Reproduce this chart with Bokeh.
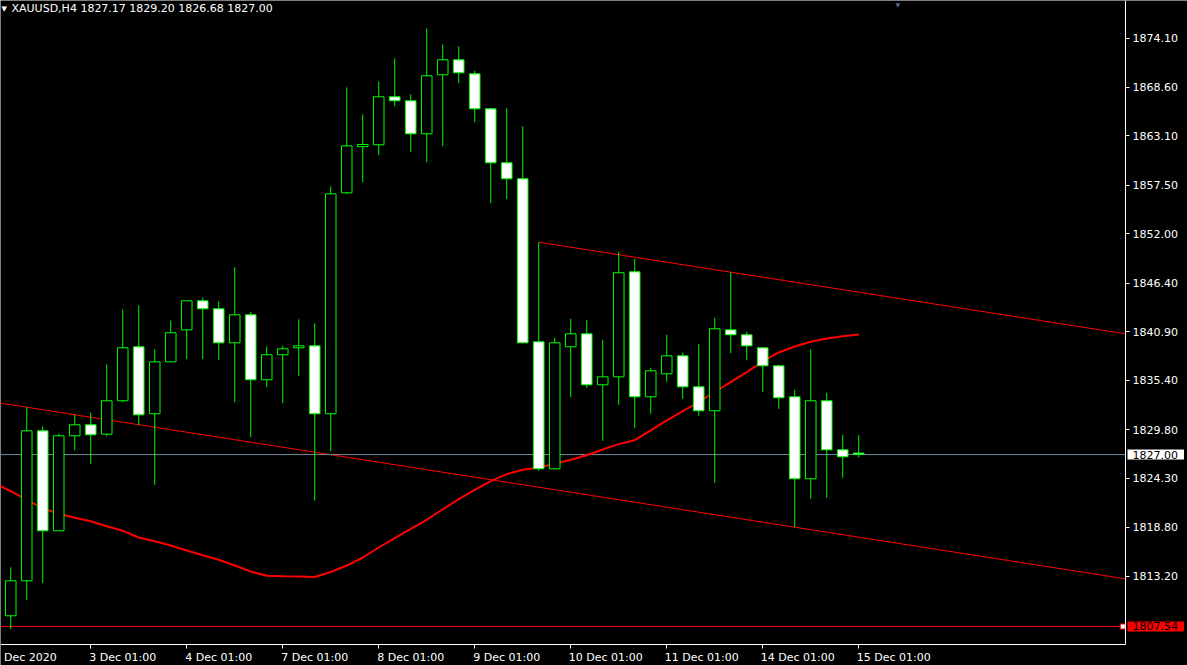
from bokeh.plotting import figure
from bokeh.models import (ColumnDataSource, FixedTicker, PrintfTickFormatter, Label, Range1d,
                          LinearAxis)
from bokeh.embed import file_html
from bokeh.resources import INLINE

# ---------------- data ----------------
symbol = "XAUUSD,H4"
header_prices = ["1827.17", "1829.20", "1826.68", "1827.00"]

opens = [1808.75, 1812.71, 1829.69, 1818.37, 1829.13, 1830.37, 1829.31, 1833.09, 1839.20, 1831.62,
         1837.50, 1841.12, 1844.41, 1843.50, 1839.65, 1842.82, 1835.47, 1838.30, 1839.09, 1839.31,
         1831.62, 1856.63, 1861.95, 1862.07, 1867.50, 1867.05, 1863.31, 1869.99, 1871.69, 1870.10,
         1866.14, 1860.03, 1858.22, 1839.77, 1825.39, 1839.20, 1840.67, 1834.90, 1835.80, 1847.69,
         1833.54, 1836.14, 1838.18, 1834.67, 1831.96, 1841.12, 1840.56, 1839.09, 1837.05, 1833.54,
         1824.26, 1833.09, 1827.54, 1827.17]
highs = [1814.22, 1832.36, 1830.18, 1829.35, 1831.54, 1831.76, 1837.20, 1843.42, 1843.88, 1838.90,
         1842.18, 1844.41, 1844.75, 1844.33, 1848.18, 1843.16, 1839.23, 1839.31, 1842.29, 1841.84,
         1857.35, 1868.55, 1865.50, 1869.23, 1871.84, 1867.76, 1875.23, 1873.42, 1873.19, 1870.44,
         1866.25, 1866.18, 1864.14, 1851.04, 1840.22, 1842.37, 1842.26, 1840.00, 1849.95, 1849.16,
         1836.82, 1840.56, 1838.52, 1839.54, 1842.48, 1847.65, 1840.90, 1839.10, 1837.16, 1834.33,
         1838.90, 1834.00, 1829.24, 1829.20]
lows = [1807.23, 1810.52, 1812.44, 1818.37, 1827.50, 1825.91, 1829.08, 1832.93, 1830.37, 1823.58,
        1837.50, 1837.80, 1837.80, 1837.73, 1832.93, 1828.97, 1834.63, 1832.82, 1835.87, 1821.80,
        1827.38, 1856.50, 1857.83, 1860.89, 1866.44, 1861.23, 1860.10, 1861.91, 1869.04, 1864.63,
        1855.46, 1855.91, 1839.60, 1825.16, 1825.30, 1833.50, 1834.56, 1828.56, 1832.64, 1830.03,
        1831.62, 1835.24, 1833.31, 1831.39, 1823.81, 1838.48, 1837.68, 1834.06, 1832.18, 1818.78,
        1822.00, 1822.11, 1824.37, 1826.68]
closes = [1812.71, 1829.69, 1818.37, 1829.13, 1830.37, 1829.24, 1833.09, 1839.09, 1831.50, 1837.50,
          1840.79, 1844.41, 1843.50, 1839.65, 1842.82, 1835.47, 1838.30, 1838.97, 1839.31, 1831.62,
          1856.52, 1861.95, 1862.10, 1867.50, 1867.05, 1863.31, 1869.88, 1871.69, 1870.22, 1866.14,
          1860.03, 1858.22, 1839.65, 1825.39, 1839.65, 1840.67, 1834.90, 1835.80, 1847.58, 1833.54,
          1836.48, 1838.18, 1834.67, 1831.96, 1841.24, 1840.56, 1839.31, 1837.05, 1833.43, 1824.26,
          1833.09, 1827.54, 1826.75, 1827.00]

# moving average, one value per bar starting one bar before the first visible one
ma_start = -1
ma_values = [1823.74, 1822.85, 1821.88, 1820.93, 1820.30, 1819.84, 1819.46, 1818.89, 1818.37, 1817.61,
             1817.19, 1816.71, 1816.14, 1815.61, 1815.09, 1814.44, 1813.76, 1813.28, 1813.23, 1813.20,
             1813.14, 1813.71, 1814.44, 1815.35, 1816.48, 1817.53, 1818.58, 1819.62, 1820.81, 1821.96,
             1822.99, 1823.99, 1824.79, 1825.29, 1825.54, 1825.96, 1826.41, 1826.93, 1827.57, 1828.18,
             1828.63, 1829.73, 1830.86, 1831.91, 1832.93, 1834.11, 1835.19, 1836.33, 1837.54, 1838.56,
             1839.23, 1839.77, 1840.14, 1840.40, 1840.59]

time_tick_bars = [5, 11, 17, 23, 29, 35, 41, 47, 53]
time_tick_labels = ["3 Dec 01:00", "4 Dec 01:00", "7 Dec 01:00", "8 Dec 01:00", "9 Dec 01:00",
                    "10 Dec 01:00", "11 Dec 01:00", "14 Dec 01:00", "15 Dec 01:00"]
first_label = "Dec 2020"

price_ticks = [1874.10, 1868.60, 1863.10, 1857.50, 1852.00, 1846.40, 1840.90,
               1835.40, 1829.80, 1824.30, 1818.80, 1813.20]

bid_price = 1827.00
hline_price = 1807.54

# channel anchors (bar index, price)
lower_a = (1, 1832.36)
lower_b = (49, 1818.78)
upper_a_bar = 33

# ---------------- styling / geometry ----------------
GREEN = "#00FF00"
RED = "#FF0000"
BIDGREY = "#778899"
FONT = "DejaVu Sans"
FSIZE = "11px"

W, H = 1187, 665
PX_BAR = 16.0          # pixels per bar
PX_PRICE = 8.834       # pixels per price unit
AXIS_X_PX, AXIS_Y_PX = 1125, 644

X0 = -0.64
X1 = X0 + W / PX_BAR
X_AX = X0 + AXIS_X_PX / PX_BAR
Y1 = 1878.4
Y0 = Y1 - H / PX_PRICE
Y_AX = Y1 - AXIS_Y_PX / PX_PRICE

p = figure(width=W, height=H, output_backend="svg", toolbar_location=None,
           x_range=Range1d(X0, X1), y_range=Range1d(Y0, Y1),
           x_axis_location=None, y_axis_location=None,
           background_fill_color="black", border_fill_color="black", outline_line_color=None,
           min_border_left=0, min_border_top=0, min_border_right=0, min_border_bottom=0)
p.grid.visible = False


def style_axis(a):
    a.major_label_text_color = "white"
    a.major_label_text_font = FONT
    a.major_label_text_font_size = FSIZE
    a.axis_line_color = "white"
    a.major_tick_line_color = "white"
    a.major_tick_out = 4
    a.major_tick_in = 0
    a.minor_tick_line_color = None


# price axis (right)
ay = LinearAxis(fixed_location=X_AX, bounds=(Y_AX, Y1),
                ticker=FixedTicker(ticks=price_ticks),
                formatter=PrintfTickFormatter(format="%.2f"))
style_axis(ay)
ay.major_label_standoff = 3
p.add_layout(ay, "right")

# time axis: line + tick marks
ax = LinearAxis(fixed_location=Y_AX, bounds=(X0, X_AX), ticker=FixedTicker(ticks=time_tick_bars))
style_axis(ax)
ax.major_label_text_color = None
p.add_layout(ax, "below")

# time axis labels, left-aligned to their tick as in the terminal
label_pos = [X0 + (len(first_label) * 3.05 + 5.5) / PX_BAR]
label_txt = [first_label]
for b, lab in zip(time_tick_bars, time_tick_labels):
    label_pos.append(b + (len(lab) * 3.05 - 1.5) / PX_BAR)
    label_txt.append(lab)
axl = LinearAxis(fixed_location=Y_AX, ticker=FixedTicker(ticks=label_pos))
style_axis(axl)
axl.axis_line_color = None
axl.major_tick_line_color = None
axl.major_label_standoff = 2
axl.major_label_overrides = {pos: t for pos, t in zip(label_pos, label_txt)}
p.add_layout(axl, "below")

# channel lines
slope = (lower_b[1] - lower_a[1]) / (lower_b[0] - lower_a[0])
p.segment(x0=[X0], y0=[lower_a[1] + slope * (X0 - lower_a[0])],
          x1=[X_AX], y1=[lower_a[1] + slope * (X_AX - lower_a[0])],
          line_color=RED, line_width=1)
ua = highs[upper_a_bar]
p.segment(x0=[upper_a_bar], y0=[ua], x1=[X_AX], y1=[ua + slope * (X_AX - upper_a_bar)],
          line_color=RED, line_width=1)

# horizontal lines
p.segment(x0=[X0], y0=[hline_price], x1=[X_AX], y1=[hline_price], line_color=RED, line_width=1)
p.segment(x0=[X0], y0=[bid_price], x1=[X_AX], y1=[bid_price], line_color=BIDGREY, line_width=1)
p.scatter([X_AX - 0.17], [hline_price], marker="square", size=5, fill_color="white",
          line_color=RED, line_width=1)

# moving average
ma_x = [ma_start + i for i in range(len(ma_values))]
p.line(ma_x, ma_values, line_color=RED, line_width=2)

# candles
n = len(opens)
src = ColumnDataSource(dict(
    x=list(range(n)), h=highs, l=lows,
    top=[max(o, c) for o, c in zip(opens, closes)],
    bottom=[min(o, c) if abs(o - c) > 0.15 else min(o, c) - 0.1 for o, c in zip(opens, closes)],
    fill=["black" if c >= o else "white" for o, c in zip(opens, closes)],
))
p.segment(x0="x", y0="l", x1="x", y1="h", source=src, line_color=GREEN, line_width=1)
p.vbar(x="x", top="top", bottom="bottom", width=0.66, source=src,
       fill_color="fill", line_color=GREEN, line_width=1)

# header text
p.add_layout(Label(x=1, y=H - 4, x_units="screen", y_units="screen", text="\u25BC",
                   text_color="white", text_font="DejaVu Sans", text_font_size="7px",
                   text_baseline="top"))
p.add_layout(Label(x=11, y=H - 1, x_units="screen", y_units="screen",
                   text=symbol + "  " + " ".join(header_prices),
                   text_color="white", text_font=FONT, text_font_size=FSIZE,
                   text_baseline="top"))
p.add_layout(Label(x=895, y=H, x_units="screen", y_units="screen", text="\u25BC",
                   text_color="#5a6e8c", text_font="DejaVu Sans", text_font_size="6px",
                   text_baseline="top"))

# price boxes on the axis
p.add_layout(Label(x=X_AX + 2 / PX_BAR, y=bid_price, text="%.2f" % bid_price,
                   text_color="black", background_fill_color="white",
                   text_font=FONT, text_font_size=FSIZE, text_baseline="middle",
                   padding=(5, 6, 1, 1)))
p.add_layout(Label(x=X_AX + 2 / PX_BAR, y=hline_price, text="%.2f" % hline_price,
                   text_color="black", background_fill_color=RED,
                   text_font=FONT, text_font_size=FSIZE, text_baseline="middle",
                   padding=(5, 6, 1, 1)))

open("out.html", "w").write(file_html(p, INLINE))
